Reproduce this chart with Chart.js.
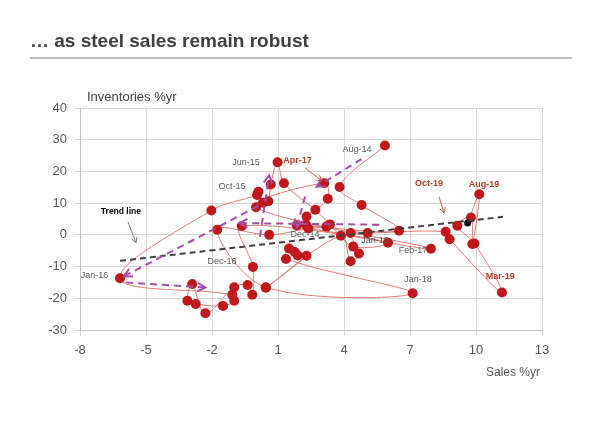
<!DOCTYPE html>
<html lang="en">
<head>
  <meta charset="UTF-8" />
  <title>... as steel sales remain robust</title>
  <script src="https://cdn.jsdelivr.net/npm/chart.js"></script>
  <style>
    body { margin: 0; background: #fff; }
    canvas { display: block; }
  </style>
</head>
<body>
  <canvas id="chartSteel" width="600" height="424"></canvas>

<script>
  // Sales %yr vs Inventories %yr, monthly, Aug-14 .. Oct-19
  const sales = [5.86, 3.8, 4.8, 6.5, 1.85, 6.0, 4.42, 3.36, 2.7, 1.27,
    0.98, 0.67, 0.56, 0.32, 0.11, 0.05, -2.03, -6.18, -1.08, -0.99,
    -1.5, -2.74, -3.12, -2.9, -2.3, -0.99, -0.38, -0.17, -0.14, -0.65,
    7.95, 0.0, 3.1, 3.26, 2.3, 2.27, 3.2, 2.38, 0.6, -1.76,
    0.44, 7.12, 1.36, 1.5, 1.76, 1.9, 2.3, 0.45, 3.86, 4.3,
    4.68, 4.3, 5.07, 8.62, 8.8, 11.18, 9.93, 9.15, 9.77, 9.83,
    10.15, 9.62];
  const inventories = [28.2, 15.1, 9.4, 1.3, 3.0, -2.5, -3.7, 3.3, 7.9, 16.3,
    22.9, 15.9, 10.6, 10.1, 13.6, 12.6, 7.7, -13.7, -18.9, -20.8,
    -22.4, -21.8, -20.8, -15.5, -24.7, -16.5, -15.8, -18.9, -10.1, 2.8,
    -4.4, 8.7, 16.3, 11.4, 5.8, 3.2, 2.6, 2.0, 0.0, 1.6,
    -16.5, -18.4, -7.6, -4.3, -5.4, -6.5, -6.6, -16.7, -0.3, -8.3,
    -5.9, 0.6, 0.6, 1.0, -1.4, -18.2, -2.7, 2.9, 5.5, -2.9,
    12.8, 3.7];

  // trend line end points
  const trendX = [-6.18, 11.23];
  const trendY = [-8.2, 5.7];

  // purple direction arrows [x1, y1, x2, y2]
  const pathArrows = [
    [4.8, 23.9, 2.76, 15.2],
    [2.23, 12.1, 1.85, 2.4],
    [5.6, 3.2, -0.75, 3.7],
    [0.09, 9.1, -6.0, -13.1],
    [-5.9, -15.0, -2.3, -16.6],
    [0.18, -0.6, 0.6, 18.8]
  ];

  // labels on the plot
  const greyLabels = [
    ['Aug-14', 4.59, 26.8], ['Jun-15', -0.45, 22.7], ['Oct-15', -1.09, 15.1],
    ['Dec-14', 2.23, 0.0], ['Jan-15', 5.41, -1.9], ['Dec-16', -1.55, -8.5],
    ['Jan-16', -7.34, -12.9], ['Feb-17', 7.14, -5.0], ['Jan-18', 7.36, -14.2]
  ];
  const redLabels = [
    ['Apr-17', 1.89, 23.3], ['Oct-19', 7.86, 16.1],
    ['Aug-19', 10.36, 15.8], ['Mar-19', 11.1, -13.2]
  ];
  const pointerArrows = [
    [2.23, 21.1, 3.0, 17.0, '#d9534f'],
    [8.32, 12.0, 8.55, 6.9, '#d9534f'],
    [-5.82, 4.1, -5.45, -2.5, '#808080']
  ];

  const FONT = "'Liberation Sans', Arial, sans-serif";
  const points = sales.map((x, i) => ({ x, y: inventories[i] }));
  const last = points.length - 1;

  function arrowHead(ctx, x1, y1, x2, y2, size) {
    const a = Math.atan2(y2 - y1, x2 - x1);
    ctx.beginPath();
    ctx.moveTo(x2 - size * Math.cos(a - 0.5), y2 - size * Math.sin(a - 0.5));
    ctx.lineTo(x2, y2);
    ctx.lineTo(x2 - size * Math.cos(a + 0.5), y2 - size * Math.sin(a + 0.5));
    ctx.stroke();
  }

  const extras = {
    id: 'extras',
    beforeDraw(chart) {
      const ctx = chart.ctx;
      ctx.save();
      ctx.fillStyle = '#404040';
      ctx.font = 'bold 19px ' + FONT;
      ctx.textBaseline = 'alphabetic';
      ctx.fillText('\u2026 as steel sales remain robust', 30, 47);
      ctx.strokeStyle = '#a6a6a6';
      ctx.lineWidth = 1.5;
      ctx.beginPath();
      ctx.moveTo(30, 58);
      ctx.lineTo(572, 58);
      ctx.stroke();
      ctx.font = '13px ' + FONT;
      ctx.fillStyle = '#404040';
      ctx.textBaseline = 'middle';
      ctx.fillText('Inventories %yr', 87, 97);
      ctx.textAlign = 'right';
      ctx.font = '12px ' + FONT;
      ctx.fillStyle = '#595959';
      ctx.fillText('Sales %yr', 540, 373);
      ctx.restore();
    },
    afterDatasetsDraw(chart) {
      const ctx = chart.ctx;
      const sx = chart.scales.x, sy = chart.scales.y;
      ctx.save();
      // heads for the purple arrows
      ctx.strokeStyle = '#a64ca6';
      ctx.lineWidth = 2;
      pathArrows.forEach(a => {
        arrowHead(ctx, sx.getPixelForValue(a[0]), sy.getPixelForValue(a[1]),
          sx.getPixelForValue(a[2]), sy.getPixelForValue(a[3]), 9);
      });
      // thin pointer arrows
      pointerArrows.forEach(a => {
        const x1 = sx.getPixelForValue(a[0]), y1 = sy.getPixelForValue(a[1]);
        const x2 = sx.getPixelForValue(a[2]), y2 = sy.getPixelForValue(a[3]);
        ctx.strokeStyle = a[4];
        ctx.lineWidth = 1;
        ctx.beginPath();
        ctx.moveTo(x1, y1);
        ctx.lineTo(x2, y2);
        ctx.stroke();
        arrowHead(ctx, x1, y1, x2, y2, 6);
      });
      ctx.textAlign = 'center';
      ctx.textBaseline = 'middle';
      ctx.font = '9px ' + FONT;
      ctx.fillStyle = '#595959';
      greyLabels.forEach(l => ctx.fillText(l[0], sx.getPixelForValue(l[1]), sy.getPixelForValue(l[2])));
      ctx.font = 'bold 9px ' + FONT;
      ctx.fillStyle = '#c0392b';
      redLabels.forEach(l => ctx.fillText(l[0], sx.getPixelForValue(l[1]), sy.getPixelForValue(l[2])));
      ctx.fillStyle = '#000';
      ctx.font = 'bold 8.5px ' + FONT;
      ctx.fillText('Trend line', sx.getPixelForValue(-6.14), sy.getPixelForValue(7.3));
      ctx.restore();
    }
  };

  const arrowSets = pathArrows.map(a => ({
    data: [{ x: a[0], y: a[1] }, { x: a[2], y: a[3] }],
    showLine: true,
    borderColor: '#a64ca6',
    borderWidth: 2,
    borderDash: [7, 5],
    pointRadius: 0,
    order: 0
  }));

  new Chart(document.getElementById('chartSteel'), {
    type: 'scatter',
    data: {
      datasets: [
        ...arrowSets,
        {
          data: trendX.map((x, i) => ({ x, y: trendY[i] })),
          showLine: true,
          borderColor: '#404040',
          borderWidth: 2,
          borderDash: [6, 4],
          pointRadius: 0,
          order: 1
        },
        {
          data: points,
          showLine: true,
          tension: 0.35,
          borderColor: '#e07a74',
          borderWidth: 1,
          pointRadius: points.map((p, i) => i === last ? 3.5 : 5),
          pointBackgroundColor: points.map((p, i) => i === last ? '#111' : '#c0171d'),
          pointBorderWidth: 0,
          order: 2
        }
      ]
    },
    options: {
      responsive: false,
      animation: false,
      devicePixelRatio: 1,
      layout: { padding: { top: 108, right: 58, left: 0, bottom: 0 } },
      plugins: { legend: { display: false }, tooltip: { enabled: false } },
      scales: {
        x: {
          type: 'linear',
          min: -8,
          max: 13,
          ticks: { stepSize: 3, padding: 7, color: '#595959', font: { size: 13, family: FONT } },
          grid: { color: '#d9d9d9', tickLength: 6 },
          border: { color: '#bfbfbf' },
          afterFit(s) { s.height = 94; }
        },
        y: {
          min: -30,
          max: 40,
          ticks: { stepSize: 10, padding: 7, color: '#595959', font: { size: 13, family: FONT } },
          grid: { color: '#d9d9d9', tickLength: 6 },
          border: { color: '#bfbfbf' },
          afterFit(s) { s.width = 80; }
        }
      }
    },
    plugins: [extras]
  });
</script>
</body>
</html>
